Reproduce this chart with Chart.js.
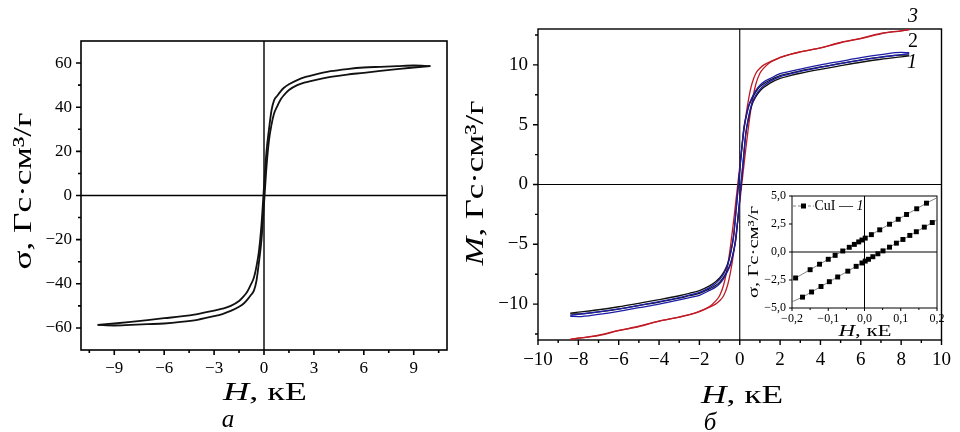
<!DOCTYPE html>
<html>
<head>
<meta charset="utf-8">
<script src="https://cdn.jsdelivr.net/npm/chart.js@4.4.0/dist/chart.umd.min.js"></script>
<style>
  html, body { margin: 0; padding: 0; background: #fff; }
  #wrap { position: relative; width: 960px; height: 432px; overflow: hidden; }
  .box { position: absolute; }
</style>
</head>
<body>
<div id="wrap">
  <div class="box" style="left:0;top:0;width:452px;height:432px"><canvas id="chartA"></canvas></div>
  <div class="box" style="left:452px;top:0;width:508px;height:432px"><canvas id="chartB"></canvas></div>
  <div class="box" style="left:740px;top:180px;width:215px;height:165px"><canvas id="chartC"></canvas></div>
</div>
<script>
// ---- панель а: поле H (кЕ) и две ветви петли σ
const fieldA = [10, 9, 8, 7, 6, 5, 4, 3, 2.5, 2, 1.5, 1.2, 1, 0.8, 0.6, 0.45, 0.3, 0.15, 0,
  -0.15, -0.3, -0.45, -0.6, -0.8, -1, -1.2, -1.5, -2, -2.5, -3, -4, -5, -6, -7, -8, -9, -10];
const sigmaDownA = [58.6, 58.9, 58.6, 58.3, 58.0, 57.3, 56.3, 54.7, 53.7, 52.3, 50.4, 48.8, 47.2, 45.2, 43.0, 38.5, 30, 20, 4,
  -13, -25, -32, -37, -40.5, -43.5, -45.5, -47.8, -50.0, -51.3, -52.2, -53.7, -54.8, -55.6, -56.5, -57.3, -58.0, -58.6];
const sigmaUpA = [58.6, 58.0, 57.3, 56.5, 55.6, 54.8, 53.7, 52.2, 51.3, 50.0, 47.8, 45.5, 43.5, 40.5, 37, 32, 25, 13, -4,
  -20, -30, -38.5, -43.0, -45.2, -47.2, -48.8, -50.4, -52.3, -53.7, -54.7, -56.3, -57.3, -58.0, -58.3, -58.6, -58.9, -58.6];
const xTicksA = [-9, -6, -3, 0, 3, 6, 9];
const xMinorA = [-10.5, -7.5, -4.5, -1.5, 1.5, 4.5, 7.5, 10.5];
const yTicksA = [-60, -40, -20, 0, 20, 40, 60];
const yMinorA = [-50, -30, -10, 10, 30, 50];

// ---- панель б: образцы 1 (чёрный), 2 (синий), 3 (красный)
const fieldB = [8.4, 8, 7, 6, 5, 4, 3, 2.5, 2, 1.5, 1.2, 1, 0.8, 0.6, 0.45, 0.3, 0.2, 0.1, 0,
  -0.1, -0.2, -0.3, -0.45, -0.6, -0.8, -1, -1.2, -1.5, -2, -2.5, -3, -4, -5, -6, -7, -8, -8.4];
const m1Down = [10.82, 10.82, 10.65, 10.42, 10.12, 9.83, 9.5, 9.3, 9.1, 8.72, 8.45, 8.18, 7.75, 7.15, 6.55, 5.5, 4.6, 3.0, 1.2,
  -0.65, -2.45, -4.2, -5.65, -6.63, -7.35, -7.82, -8.13, -8.48, -8.87, -9.1, -9.3, -9.63, -9.93, -10.22, -10.47, -10.67, -10.75];
const m1Up = [10.75, 10.67, 10.47, 10.22, 9.93, 9.63, 9.3, 9.1, 8.87, 8.48, 8.13, 7.82, 7.35, 6.63, 5.65, 4.2, 2.45, 0.65, -1.2,
  -3.0, -4.6, -5.5, -6.55, -7.15, -7.75, -8.18, -8.45, -8.72, -9.1, -9.3, -9.5, -9.83, -10.12, -10.42, -10.65, -10.82, -10.82];
const m2Down = [11.02, 11.04, 10.85, 10.6, 10.3, 10.0, 9.65, 9.45, 9.26, 8.85, 8.58, 8.3, 7.87, 7.25, 6.65, 5.6, 4.7, 3.05, 1.2,
  -0.65, -2.5, -4.3, -5.75, -6.75, -7.48, -7.95, -8.27, -8.62, -9.02, -9.25, -9.45, -9.8, -10.1, -10.4, -10.65, -10.85, -10.94];
const m2Up = [10.94, 10.85, 10.65, 10.4, 10.1, 9.8, 9.45, 9.25, 9.02, 8.62, 8.27, 7.95, 7.48, 6.75, 5.75, 4.3, 2.5, 0.65, -1.2,
  -3.05, -4.7, -5.6, -6.65, -7.25, -7.87, -8.3, -8.58, -8.85, -9.26, -9.45, -9.65, -10.0, -10.3, -10.6, -10.85, -11.04, -11.02];
const m3Down = [12.95, 12.85, 12.63, 12.22, 11.88, 11.42, 11.08, 10.88, 10.63, 10.25, 10.0, 9.72, 9.3, 8.4, 7.25, 5.7, 4.4, 3.0, 1.5,
  0, -1.5, -3.0, -5.05, -6.8, -8.4, -9.3, -9.75, -10.2, -10.6, -10.88, -11.08, -11.42, -11.85, -12.2, -12.6, -12.85, -12.95];
const m3Up = [12.95, 12.85, 12.6, 12.2, 11.85, 11.42, 11.08, 10.88, 10.6, 10.2, 9.75, 9.3, 8.4, 6.8, 5.05, 3.0, 1.5, 0, -1.5,
  -3.0, -4.4, -5.7, -7.25, -8.4, -9.3, -9.72, -10.0, -10.25, -10.63, -10.88, -11.08, -11.42, -11.88, -12.22, -12.63, -12.85, -12.95];
const xTicksB = [-10, -8, -6, -4, -2, 0, 2, 4, 6, 8, 10];
const xMinorB = [-9, -7, -5, -3, -1, 1, 3, 5, 7, 9];
const yTicksB = [-10, -5, 0, 5, 10];
const yMinorB = [-12.5, -7.5, -2.5, 2.5, 7.5, 12.5];

// ---- вставка: CuI — 1 (малые поля)
const fieldInsetUp = [-0.2, -0.19, -0.15, -0.124, -0.1, -0.081, -0.06, -0.042, -0.028, -0.016, -0.007, 0.002, 0.019, 0.042, 0.069, 0.093, 0.116, 0.144, 0.171, 0.2];
const sigmaInsetUp = [-2.5, -2.32, -1.58, -1.09, -0.65, -0.3, 0.09, 0.42, 0.68, 0.9, 1.07, 1.24, 1.55, 1.98, 2.48, 2.92, 3.35, 3.86, 4.36, 4.85];
const fieldInsetDown = [-0.2, -0.171, -0.146, -0.12, -0.097, -0.074, -0.046, -0.023, -0.007, 0.002, 0.011, 0.023, 0.037, 0.051, 0.069, 0.088, 0.106, 0.125, 0.143, 0.165, 0.187, 0.2];
const sigmaInsetDown = [-4.45, -4.03, -3.57, -3.08, -2.65, -2.23, -1.71, -1.28, -0.98, -0.81, -0.65, -0.42, -0.16, 0.1, 0.43, 0.79, 1.12, 1.48, 1.81, 2.22, 2.63, 2.87];
const xTicksC = [-0.2, -0.1, 0, 0.1, 0.2];
const xMinorC = [-0.15, -0.05, 0.05, 0.15];
const yTicksC = [-5, -2.5, 0, 2.5, 5];
const yMinorC = [];

const SERIF = "'Liberation Serif', 'Times New Roman', serif";
const minus = v => String(v).replace('-', '\u2212');
const commaFmt = v => Number(v).toFixed(1).replace('.', ',').replace('-', '\u2212');

function pts(xs, ys) {
  return xs.map((x, i) => ({ x: x, y: ys[i] }));
}

// текст с курсивом в части строки; w — ширина, до которой растягиваем
function drawRich(ctx, t) {
  ctx.save();
  ctx.translate(t.x, t.y);
  if (t.rot) ctx.rotate(t.rot);
  const fonts = t.parts.map(p => (p[1] ? 'italic ' : '') + t.size + 'px ' + SERIF);
  let total = 0;
  const widths = t.parts.map((p, i) => {
    ctx.font = fonts[i];
    const w = ctx.measureText(p[0]).width;
    total += w;
    return w;
  });
  if (t.w) ctx.scale(t.w / total, 1);
  let cx = -total / 2;
  ctx.textBaseline = t.base || 'alphabetic';
  ctx.textAlign = 'left';
  ctx.fillStyle = '#000';
  t.parts.forEach((p, i) => {
    ctx.font = fonts[i];
    ctx.fillText(p[0], cx, 0);
    cx += widths[i];
  });
  ctx.restore();
}

// рамка, нулевые линии, засечки и подписи
function makeDecor(spec) {
  return {
    id: 'decor',
    beforeDatasetsDraw(chart) {
      const { ctx, chartArea: a, scales: { x, y } } = chart;
      ctx.save();
      ctx.strokeStyle = '#000';
      ctx.lineWidth = spec.zeroWidth;
      const x0 = x.getPixelForValue(0), y0 = y.getPixelForValue(0);
      ctx.beginPath();
      ctx.moveTo(a.left, y0); ctx.lineTo(a.right, y0);
      ctx.moveTo(x0, a.top); ctx.lineTo(x0, a.bottom);
      ctx.stroke();
      ctx.lineWidth = spec.frameWidth;
      ctx.strokeRect(a.left, a.top, a.right - a.left, a.bottom - a.top);
      ctx.beginPath();
      spec.xMajor.forEach(v => { const p = x.getPixelForValue(v); ctx.moveTo(p, a.bottom); ctx.lineTo(p, a.bottom + spec.major); });
      spec.xMinor.forEach(v => { const p = x.getPixelForValue(v); ctx.moveTo(p, a.bottom); ctx.lineTo(p, a.bottom + spec.minor); });
      spec.yMajor.forEach(v => { const p = y.getPixelForValue(v); ctx.moveTo(a.left, p); ctx.lineTo(a.left - spec.major, p); });
      spec.yMinor.forEach(v => { const p = y.getPixelForValue(v); ctx.moveTo(a.left, p); ctx.lineTo(a.left - spec.minor, p); });
      ctx.stroke();
      ctx.restore();
    },
    afterDraw(chart) {
      const ctx = chart.ctx;
      if (spec.legend) spec.legend(ctx);
      spec.texts.forEach(t => drawRich(ctx, t));
    }
  };
}

function axis(min, max, ticks, size, fit, fmt, pad) {
  return {
    type: 'linear', min: min, max: max,
    afterBuildTicks: s => { s.ticks = ticks.map(v => ({ value: v })); },
    afterFit: fit,
    grid: { display: false, drawTicks: false },
    border: { display: false },
    ticks: { padding: pad, autoSkip: false, maxRotation: 0, color: '#000', font: { family: SERIF, size: size }, callback: fmt }
  };
}

function line(data, color, width) {
  return { data: data, showLine: true, borderColor: color, borderWidth: width, pointRadius: 0, fill: false,
    cubicInterpolationMode: 'monotone' };
}

const baseOpts = {
  responsive: true,
  maintainAspectRatio: false,
  animation: false,
  events: []
};

// ---- а
new Chart(document.getElementById('chartA'), {
  type: 'scatter',
  data: {
    datasets: [
      line(pts(fieldA, sigmaDownA), '#111', 1.8),
      line(pts(fieldA, sigmaUpA), '#111', 1.8)
    ]
  },
  options: Object.assign({}, baseOpts, {
    layout: { padding: { left: 0, top: 41, right: 5, bottom: 0 } },
    plugins: { legend: { display: false }, tooltip: { enabled: false } },
    scales: {
      x: axis(-11, 11, xTicksA, 17, s => { s.height = 82; }, minus, 8),
      y: axis(-70, 70, yTicksA, 17, s => { s.width = 81; }, minus, 9)
    }
  }),
  plugins: [makeDecor({
    zeroWidth: 1.4, frameWidth: 1.6, major: 5, minor: 3,
    xMajor: xTicksA, xMinor: xMinorA, yMajor: yTicksA, yMinor: yMinorA,
    texts: [
      { parts: [['σ, Гс·см³/г', false]], x: 24, y: 191, size: 26, w: 157, rot: -Math.PI / 2, base: 'middle' },
      { parts: [['H', true], [', кЕ', false]], x: 265, y: 400, size: 26, w: 84 },
      { parts: [['а', true]], x: 228, y: 427, size: 25 }
    ]
  })]
});

// ---- б
new Chart(document.getElementById('chartB'), {
  type: 'scatter',
  data: {
    datasets: [
      line(pts(fieldB, m2Down), '#1c1ca8', 1.3),
      line(pts(fieldB, m2Up), '#1c1ca8', 1.3),
      line(pts(fieldB, m1Down), '#111', 1.3),
      line(pts(fieldB, m1Up), '#111', 1.3),
      line(pts(fieldB, m3Down), '#c01a24', 1.3),
      line(pts(fieldB, m3Up), '#c01a24', 1.3)
    ]
  },
  options: Object.assign({}, baseOpts, {
    layout: { padding: { left: 0, top: 29, right: 11, bottom: 0 } },
    plugins: { legend: { display: false }, tooltip: { enabled: false } },
    scales: {
      x: axis(-10, 10, xTicksB, 19, s => { s.height = 92; }, minus, 9),
      y: axis(-13, 13, yTicksB, 19, s => { s.width = 86; }, minus, 10)
    }
  }),
  plugins: [makeDecor({
    zeroWidth: 1.1, frameWidth: 1.4, major: 5, minor: 3,
    xMajor: xTicksB, xMinor: xMinorB, yMajor: yTicksB, yMinor: yMinorB,
    texts: [
      { parts: [['M', true], [', Гс·см³/г', false]], x: 24, y: 183, size: 26, w: 165, rot: -Math.PI / 2, base: 'middle' },
      { parts: [['H', true], [', кЕ', false]], x: 290, y: 403, size: 26, w: 82 },
      { parts: [['б', true]], x: 258, y: 430, size: 25 },
      { parts: [['3', true]], x: 461, y: 17, size: 20, base: 'middle' },
      { parts: [['2', false]], x: 461, y: 42, size: 20, base: 'middle' },
      { parts: [['1', true]], x: 460, y: 63, size: 20, base: 'middle' }
    ]
  })]
});

// ---- вставка
const insetPoint = (xs) => xs.map((v, i) => (i === 0 || i === xs.length - 1) ? 0 : 3.5);
new Chart(document.getElementById('chartC'), {
  type: 'scatter',
  data: {
    datasets: [
      { data: pts(fieldInsetUp, sigmaInsetUp), showLine: true, borderColor: '#666', borderWidth: 0.8,
        pointStyle: 'rect', pointRadius: insetPoint(fieldInsetUp), pointBackgroundColor: '#000', pointBorderWidth: 0 },
      { data: pts(fieldInsetDown, sigmaInsetDown), showLine: true, borderColor: '#666', borderWidth: 0.8,
        pointStyle: 'rect', pointRadius: insetPoint(fieldInsetDown), pointBackgroundColor: '#000', pointBorderWidth: 0 }
    ]
  },
  options: Object.assign({}, baseOpts, {
    layout: { padding: { left: 0, top: 16, right: 18, bottom: 0 } },
    plugins: { legend: { display: false }, tooltip: { enabled: false } },
    scales: {
      x: axis(-0.2, 0.2, xTicksC, 12, s => { s.height = 37; }, commaFmt, 4),
      y: axis(-5, 5, yTicksC, 12, s => { s.width = 52; }, commaFmt, 6)
    }
  }),
  plugins: [makeDecor({
    zeroWidth: 1, frameWidth: 1, major: 3, minor: 2,
    xMajor: xTicksC, xMinor: xMinorC, yMajor: yTicksC, yMinor: yMinorC,
    legend: ctx => {
      ctx.save();
      ctx.strokeStyle = '#666';
      ctx.lineWidth = 0.8;
      ctx.setLineDash([3, 2]);
      ctx.beginPath(); ctx.moveTo(53, 26); ctx.lineTo(74, 26); ctx.stroke();
      ctx.fillStyle = '#000';
      ctx.fillRect(61, 23.5, 5, 5);
      ctx.restore();
    },
    texts: [
      { parts: [['CuI — ', false], ['1', true]], x: 99, y: 26, size: 14, base: 'middle' },
      { parts: [['σ, Гс·см³/г', false]], x: 14, y: 72, size: 15, w: 92, rot: -Math.PI / 2, base: 'middle' },
      { parts: [['H', true], [', кЕ', false]], x: 125, y: 156, size: 16, w: 53 }
    ]
  })]
});
</script>
</body>
</html>
